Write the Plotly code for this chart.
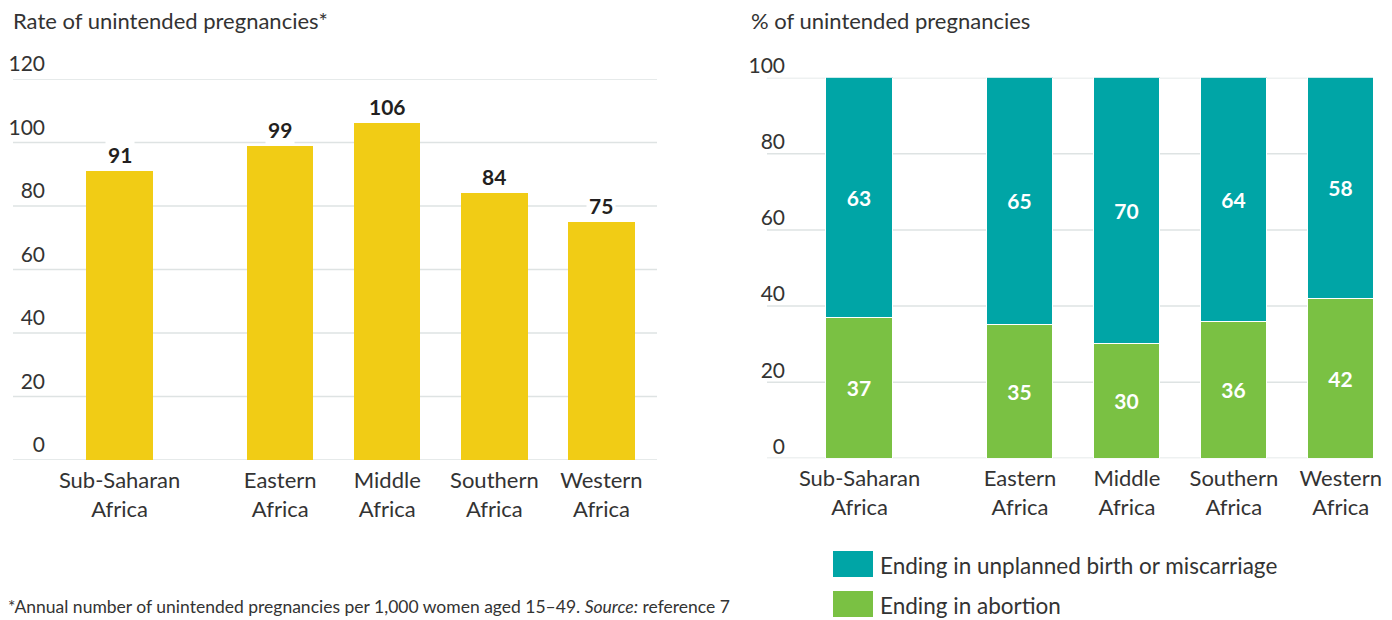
import plotly.graph_objects as go
from plotly.subplots import make_subplots

# ---------------- data ----------------
categories = ["Sub-Saharan Africa", "Eastern Africa", "Middle Africa",
              "Southern Africa", "Western Africa"]
tick_labels = ["Sub-Saharan<br>Africa", "Eastern<br>Africa", "Middle<br>Africa",
               "Southern<br>Africa", "Western<br>Africa"]
rate_values = [91, 99, 106, 84, 75]
abortion_pct = [37, 35, 30, 36, 42]
birth_pct = [63, 65, 70, 64, 58]
left_title = "Rate of unintended pregnancies*"
right_title = "% of unintended pregnancies"
series_names = ["Ending in unplanned birth or miscarriage", "Ending in abortion"]
left_ticks = [0, 20, 40, 60, 80, 100, 120]
right_ticks = [0, 20, 40, 60, 80, 100]
footnote = ("*Annual number of unintended pregnancies per 1,000 women aged 15–49. "
            "<i>Source:</i> reference 7")

# ---------------- style / layout ----------------
PAGE_W, PAGE_H = 1392, 620
OFF = 8                       # page body margin
W, H = PAGE_W - OFF, PAGE_H - OFF
FONT = "Lato"
TXT = "#333333"
YELLOW = "#F1CC15"
TEAL = "#00A5A6"
GREEN = "#7AC143"
GRID = "#DEE3E3"
GROUP_GAP = 0.5          # extra space after the aggregate bar
BAR_W = 0.62

positions = [i + (GROUP_GAP if i > 0 else 0) for i in range(len(categories))]


def px_x(p):
    return (p - OFF) / W


def px_y(p):
    return 1 - (p - OFF) / H


fig = make_subplots(rows=1, cols=2)

fig.add_trace(go.Bar(x=positions, y=rate_values, marker_color=YELLOW, width=BAR_W,
                     showlegend=False, hoverinfo="skip"), row=1, col=1)

seg_font = dict(family=FONT, size=21, color="white", weight="bold")
fig.add_trace(go.Bar(x=positions, y=abortion_pct, name=series_names[1],
                     marker=dict(color=GREEN, line=dict(color="white", width=1)),
                     width=BAR_W, text=abortion_pct, textposition="inside",
                     insidetextanchor="middle", textangle=0, textfont=seg_font,
                     showlegend=False), row=1, col=2)
fig.add_trace(go.Bar(x=positions, y=birth_pct, name=series_names[0],
                     marker=dict(color=TEAL, line=dict(color="white", width=1)),
                     width=BAR_W, text=birth_pct, textposition="inside",
                     insidetextanchor="middle", textangle=0, textfont=seg_font,
                     showlegend=False), row=1, col=2)

# plot-area geometry (page pixels)
L_left, R_left, G_left = 47, 657, 13
L_right, R_right, G_right = 789, 1373, 767
x0_left_px, unit_left = 119.6, 107.07
x0_right_px, unit_right = 859.6, 106.93

common_x = dict(showgrid=False, zeroline=False, showline=False, ticks="",
                automargin=False, ticklabelstandoff=5,
                tickfont=dict(size=22, color=TXT, family=FONT))
common_y = dict(showgrid=False, zeroline=False, showline=False, ticks="",
                automargin=False, tickfont=dict(size=21, color=TXT, family=FONT))

fig.update_layout(
    template="none",
    barmode="stack",
    width=W, height=H, autosize=False,
    margin=dict(l=0, r=0, t=0, b=0, pad=0),
    paper_bgcolor="white", plot_bgcolor="white",
    font=dict(family=FONT, color=TXT, size=20),
    bargap=0,
    xaxis=dict(domain=[px_x(L_left), px_x(R_left)],
               range=[(L_left - x0_left_px) / unit_left, (R_left - x0_left_px) / unit_left],
               tickvals=positions, ticktext=tick_labels, **common_x),
    yaxis=dict(domain=[px_y(460), px_y(79)], range=[0, 120], tickvals=left_ticks,
               ticklabelshift=-15, ticklabelstandoff=1, **common_y),
    xaxis2=dict(domain=[px_x(L_right), px_x(R_right)],
                range=[(L_right - x0_right_px) / unit_right, (R_right - x0_right_px) / unit_right],
                tickvals=positions, ticktext=tick_labels, **common_x),
    yaxis2=dict(domain=[px_y(458.3), px_y(77.7)], range=[0, 100], tickvals=right_ticks,
                ticklabelshift=-12, ticklabelstandoff=3, **common_y),
)

# gridlines (extend slightly left under the tick labels)
for v in left_ticks:
    fig.add_shape(type="line", xref="x domain", yref="y",
                  x0=(G_left - L_left) / (R_left - L_left), x1=1, y0=v, y1=v,
                  line=dict(color=GRID, width=1.5), layer="below")
for v in right_ticks:
    fig.add_shape(type="line", xref="x2 domain", yref="y2",
                  x0=(G_right - L_right) / (R_right - L_right), x1=1, y0=v, y1=v,
                  line=dict(color=GRID, width=1.5), layer="below")

# value labels above yellow bars
for p, v in zip(positions, rate_values):
    fig.add_annotation(x=p, y=v, xref="x", yref="y", text=f"<b>{v}</b>",
                       showarrow=False, yanchor="bottom", yshift=1,
                       bgcolor="white", borderpad=2,
                       font=dict(family=FONT, size=21, color="#231F20"))

# titles
fig.add_annotation(x=px_x(11), y=px_y(20), xref="paper", yref="paper",
                   text=left_title, showarrow=False, xanchor="left", yanchor="middle",
                   font=dict(family=FONT, size=22, color=TXT))
fig.add_annotation(x=px_x(749), y=px_y(20), xref="paper", yref="paper",
                   text=right_title, showarrow=False, xanchor="left", yanchor="middle",
                   font=dict(family=FONT, size=22, color=TXT))

# custom legend
legend_items = [(series_names[0], TEAL, 564), (series_names[1], GREEN, 604)]
for name, col, cy in legend_items:
    fig.add_shape(type="rect", xref="paper", yref="paper",
                  x0=px_x(833), x1=px_x(873), y0=px_y(cy - 13), y1=px_y(cy + 13),
                  fillcolor=col, line=dict(width=0))
    fig.add_annotation(x=px_x(878), y=px_y(cy + 1), xref="paper", yref="paper",
                       text=name, showarrow=False, xanchor="left", yanchor="middle",
                       font=dict(family=FONT, size=22.5, color=TXT))

# footnote (kept fully visible just above the bottom edge)
fig.add_annotation(x=px_x(6), y=px_y(606), xref="paper", yref="paper",
                   text=footnote, showarrow=False, xanchor="left", yanchor="middle",
                   font=dict(family=FONT, size=17.5, color=TXT))

fig.write_html("out.html")
